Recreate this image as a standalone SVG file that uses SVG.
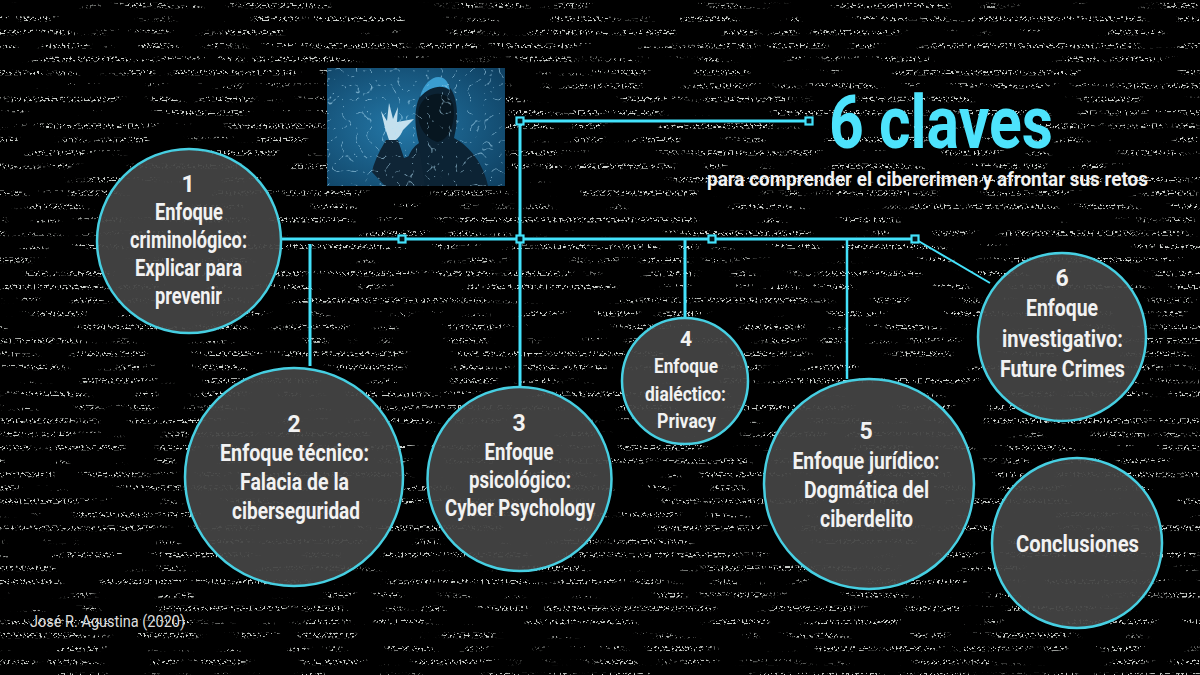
<svg xmlns="http://www.w3.org/2000/svg" width="1200" height="675" viewBox="0 0 1200 675">
<style>
.c{stroke:#46cfe2;stroke-width:2.5;fill:#444;fill-opacity:.94}
.l{stroke:#43e2fb;stroke-width:3;fill:none}
.h{fill:#03141a;stroke:#43e2fb;stroke-width:2.2}
text{font-family:Roboto,"Liberation Sans",sans-serif;font-weight:700;fill:#f2f2f2;font-size:23px;text-anchor:middle}
g[id^=node] text{transform:translateY(1px)}
</style>
<defs>
<filter id="code" x="0" y="0" width="100%" height="100%" color-interpolation-filters="sRGB">
<feTurbulence type="fractalNoise" baseFrequency="0.5 0.6" numOctaves="1" seed="7" result="fine"/>
<feColorMatrix in="fine" type="matrix" values="0 0 0 0 0.95 0 0 0 0 0.97 0 0 0 0 0.95 0 0 0 22 -12.4" result="dots"/>
<feTurbulence type="fractalNoise" baseFrequency="0.02 0.075" numOctaves="2" seed="23" result="coarse"/>
<feColorMatrix in="coarse" type="matrix" values="0 0 0 0 1 0 0 0 0 1 0 0 0 0 1 0 0 0 12 -5.6" result="words"/>
<feComposite in="dots" in2="words" operator="in"/>
</filter>
<filter id="web" x="0" y="0" width="100%" height="100%" color-interpolation-filters="sRGB">
<feTurbulence type="turbulence" baseFrequency="0.07" numOctaves="2" seed="11"/>
<feColorMatrix type="matrix" values="0 0 0 0 0.7 0 0 0 0 0.88 0 0 0 0 0.97 0 0 0 -14 1.1"/>
</filter>
<pattern id="rows" width="1200" height="13.4" patternUnits="userSpaceOnUse">
<rect y="3" width="1200" height="5" fill="#fff"/>
</pattern>
<mask id="rowmask" maskUnits="userSpaceOnUse" x="0" y="0" width="1200" height="675">
<rect width="1200" height="675" fill="url(#rows)"/>
</mask>
<radialGradient id="sky" cx="0.42" cy="0.5" r="0.75">
<stop offset="0" stop-color="#2478a8"/>
<stop offset="1" stop-color="#0e3f60"/>
</radialGradient>
<clipPath id="pic"><rect x="327" y="68" width="178" height="118"/></clipPath>
</defs>
<rect id="background" width="1200" height="675" fill="#000"/>
<g mask="url(#rowmask)">
<rect id="code-texture" width="1200" height="675" filter="url(#code)" opacity="0.85"/>
</g>
<g id="picture" clip-path="url(#pic)">
<rect x="327" y="68" width="178" height="118" fill="url(#sky)"/>
<path d="M404 186 C404 165 408 150 419 143 C414 125 414 105 421 95 C427 78 447 74 450 88 C458 98 459 120 454 138 C470 146 484 165 488 186Z" fill="#0c2334"/>
<path d="M420 97 C426 74 447 70 450 90 C442 84 430 86 420 97Z" fill="#3a9dd0"/>
<path d="M419 108 C424 92 446 88 453 104 C456 120 451 138 438 142 C426 140 415 124 419 108Z" fill="#071620"/>
<path d="M385 128 L381 111 L387 121 L389 103 L393 119 L398 107 L397 122 L414 119 L403 130 C399 139 394 143 389 140Z" fill="#c4e0ee"/>
<path d="M386 140 L398 140 L404 158 L420 152 L425 186 L385 186 L372 172 Q374 160 386 140Z" fill="#0f2536"/>
<rect x="327" y="68" width="178" height="118" filter="url(#web)" opacity="0.6"/>
</g>
<g id="connectors">
<path class="l" d="M282 239H915"/>
<path class="l" d="M520 121V386"/>
<path class="l" d="M520 121H809"/>
<path class="l" d="M310 244V366"/>
<path class="l" d="M685 239V318"/>
<path class="l" style="stroke-width:2.5" d="M847 239V379"/>
<path class="l" style="stroke-width:2" d="M915 239L990 283"/>
<rect class="h" x="516.500" y="117.500" width="7" height="7"/>
<rect class="h" x="805.500" y="117.500" width="7" height="7"/>
<rect class="h" x="398.500" y="235.500" width="7" height="7"/>
<rect class="h" x="516.500" y="235.500" width="7" height="7"/>
<rect class="h" x="708.500" y="235.500" width="7" height="7"/>
<rect class="h" x="911.500" y="235.500" width="7" height="7"/>
</g>
<g id="title">
<text x="941" y="148" style="font-size:74px;fill:#4de3fc" textLength="224" lengthAdjust="spacingAndGlyphs">6 claves</text>
<text x="927.500" y="186" style="font-size:21px" textLength="441" lengthAdjust="spacingAndGlyphs">para comprender el cibercrimen y afrontar sus retos</text>
</g>
<g id="node1">
<circle class="c" cx="189" cy="241" r="92"/>
<text x="188" y="191">1</text>
<text x="189" y="219" textLength="68" lengthAdjust="spacingAndGlyphs">Enfoque</text>
<text x="188.500" y="247" textLength="117" lengthAdjust="spacingAndGlyphs">criminológico:</text>
<text x="188.500" y="275" textLength="107" lengthAdjust="spacingAndGlyphs">Explicar para</text>
<text x="188.500" y="303" textLength="67" lengthAdjust="spacingAndGlyphs">prevenir</text>
</g>
<g id="node2">
<circle class="c" cx="294" cy="477" r="109"/>
<text x="294" y="431">2</text>
<text x="294.500" y="460" textLength="149" lengthAdjust="spacingAndGlyphs">Enfoque técnico:</text>
<text x="294.500" y="489" textLength="109" lengthAdjust="spacingAndGlyphs">Falacia de la</text>
<text x="296" y="518" textLength="128" lengthAdjust="spacingAndGlyphs">ciberseguridad</text>
</g>
<g id="node3">
<circle class="c" cx="519.500" cy="479" r="92"/>
<text x="519" y="430">3</text>
<text x="519" y="459" textLength="69" lengthAdjust="spacingAndGlyphs">Enfoque</text>
<text x="520" y="487" textLength="102" lengthAdjust="spacingAndGlyphs">psicológico:</text>
<text x="520" y="515" textLength="150" lengthAdjust="spacingAndGlyphs">Cyber Psychology</text>
</g>
<g id="node4">
<circle class="c" cx="685" cy="381" r="63"/>
<text x="686" y="345" style="font-size:21px">4</text>
<text x="686" y="372" style="font-size:21px" textLength="64" lengthAdjust="spacingAndGlyphs">Enfoque</text>
<text x="685.500" y="400" style="font-size:21px" textLength="81" lengthAdjust="spacingAndGlyphs">dialéctico:</text>
<text x="686.500" y="427" style="font-size:21px" textLength="59" lengthAdjust="spacingAndGlyphs">Privacy</text>
</g>
<g id="node5">
<circle class="c" cx="869" cy="484" r="105"/>
<text x="866" y="438">5</text>
<text x="866" y="468" textLength="147" lengthAdjust="spacingAndGlyphs">Enfoque jurídico:</text>
<text x="866.500" y="497" textLength="125" lengthAdjust="spacingAndGlyphs">Dogmática del</text>
<text x="866.500" y="526" textLength="93" lengthAdjust="spacingAndGlyphs">ciberdelito</text>
</g>
<g id="node6">
<circle class="c" cx="1062" cy="337" r="84"/>
<text x="1062" y="285">6</text>
<text x="1062" y="315" textLength="72" lengthAdjust="spacingAndGlyphs">Enfoque</text>
<text x="1062.500" y="346" textLength="121" lengthAdjust="spacingAndGlyphs">investigativo:</text>
<text x="1062.500" y="376" textLength="125" lengthAdjust="spacingAndGlyphs">Future Crimes</text>
</g>
<g id="node7">
<circle class="c" cx="1077" cy="543" r="85"/>
<text x="1077.500" y="551" textLength="123" lengthAdjust="spacingAndGlyphs">Conclusiones</text>
</g>
<g id="credit">
<text x="107.500" y="627" style="font-size:17px;font-weight:400;fill:#ddd" textLength="155" lengthAdjust="spacingAndGlyphs">José R. Agustina (2020)</text>
</g>
</svg>
